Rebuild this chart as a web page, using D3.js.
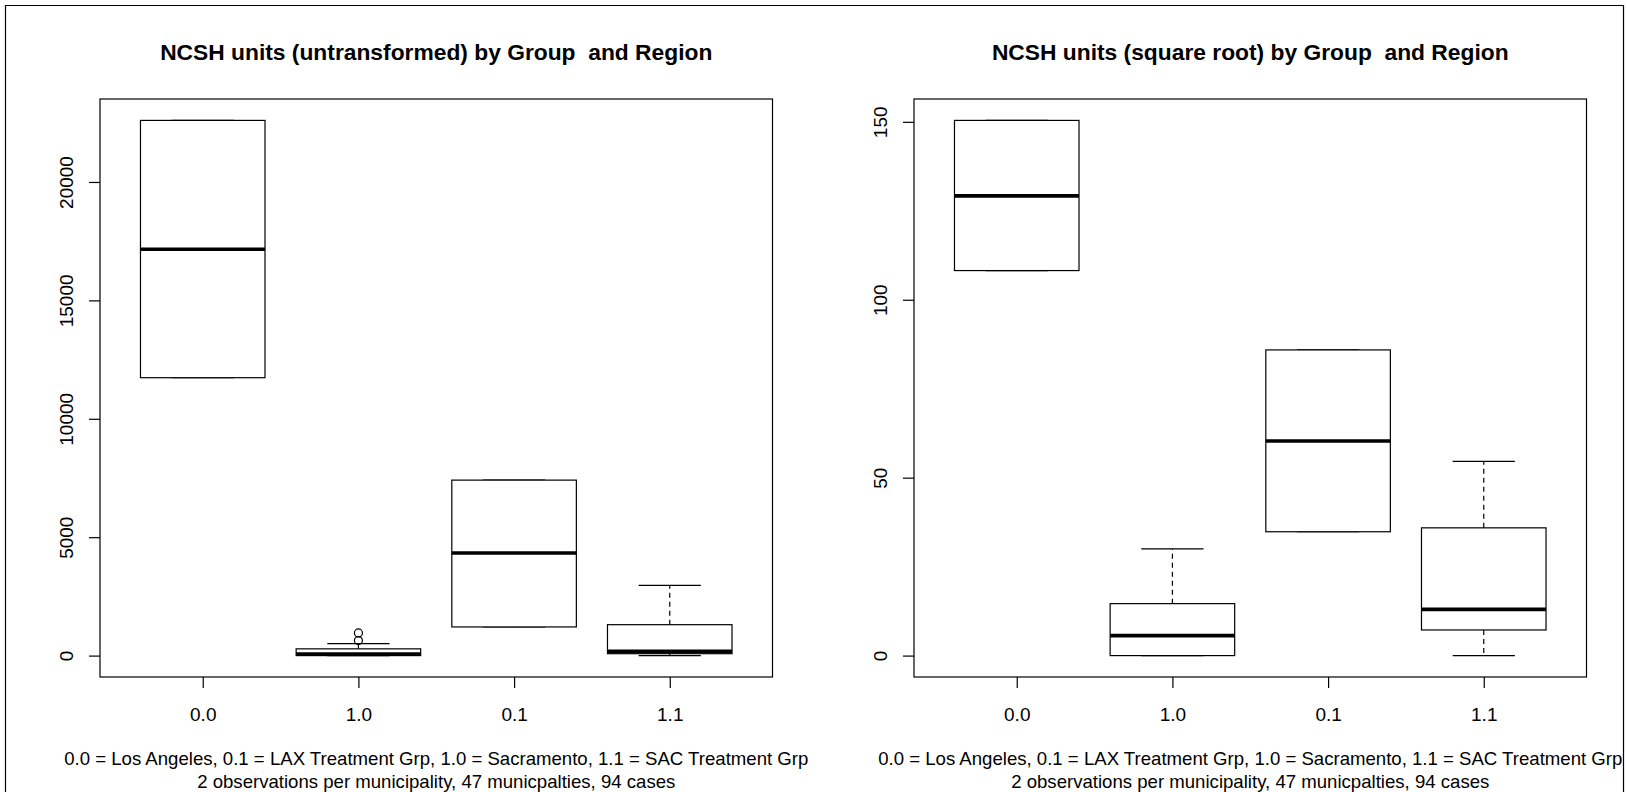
<!DOCTYPE html>
<html>
<head>
<meta charset="utf-8">
<script src="https://cdn.jsdelivr.net/npm/d3@7"></script>
<style>
  body { margin: 0; background: #fff; }
  text { font-family: "Liberation Sans", Arial, sans-serif; fill: #000; white-space: pre; }
</style>
</head>
<body>
<div id="chart-area"></div>
<script>
// groups in the order the boxes are drawn
var groups = ["0.0", "1.0", "0.1", "1.1"];

// [lower whisker, Q1, median, Q3, upper whisker]
var rawStats = [
    [11735, 11735, 17160, 22600, 22600],
    [0, 0, 60, 285, 505],
    [1210, 1210, 4330, 7410, 7410],
    [0, 80, 180, 1305, 2965]
];
var rawOutliers = [[], [633, 957], [], []];
var rawTicks = [0, 5000, 10000, 15000, 20000];

var sqrtStats = [
    [108.2, 108.2, 129.2, 150.4, 150.4],
    [0, 0, 5.6, 14.6, 30.0],
    [34.8, 34.8, 60.3, 85.9, 85.9],
    [0, 7.2, 13.0, 35.9, 54.6]
];
var sqrtOutliers = [[], [], [], []];
var sqrtTicks = [0, 50, 100, 150];

var titles = [
    "NCSH units (untransformed) by Group  and Region",
    "NCSH units (square root) by Group  and Region"
];
var subLines = [
    "0.0 = Los Angeles, 0.1 = LAX Treatment Grp, 1.0 = Sacramento, 1.1 = SAC Treatment Grp",
    "2 observations per municipality, 47 municpalties, 94 cases"
];

var W = 1627, H = 792;
var margin = {top: 99, left: 100};
var plotW = 672.5, plotH = 578;
var panelStep = 814;
var fontSize = 19;

var svg = d3.select("#chart-area")
    .append("svg")
        .attr("width", W)
        .attr("height", H);

// outer frame of the device
svg.append("path")
    .attr("d", "M5.5," + H + "V5.5H" + (W - 3.5) + "V" + H)
    .attr("fill", "none")
    .attr("stroke", "#000")
    .attr("stroke-width", 1.2);

function drawPanel(idx, stats, outliers, ticks, title) {
    var g = svg.append("g")
        .attr("transform", "translate(" + (margin.left + idx * panelStep) + "," + margin.top + ")");

    // R style range: data range stretched by 4% each side
    var lo = d3.min(stats, d => d[0]);
    var hi = d3.max(stats, d => d[4]);
    outliers.forEach(o => { o.forEach(v => { lo = Math.min(lo, v); hi = Math.max(hi, v); }); });
    var pad = (hi - lo) * 0.04;

    var y = d3.scaleLinear().domain([lo - pad, hi + pad]).range([plotH, 0]);
    var x = d3.scaleLinear().domain([0.34, 4.66]).range([0, plotW]);

    // y axis
    var leftAxis = d3.axisLeft(y).tickValues(ticks).tickFormat(d3.format("d")).tickSize(11);
    var ya = g.append("g")
        .attr("class", "left axis")
        .call(leftAxis);
    ya.select(".domain").remove();
    ya.selectAll("line").attr("stroke", "#000").attr("stroke-width", 1.2);
    ya.selectAll("text")
        .attr("transform", "rotate(-90)")
        .attr("x", 0)
        .attr("y", -27)
        .attr("dy", null)
        .attr("text-anchor", "middle")
        .attr("font-size", fontSize + "px")
        .attr("font-family", null);

    // x axis
    var bottomAxis = d3.axisBottom(x).tickValues([1, 2, 3, 4]).tickFormat(d => groups[d - 1]).tickSize(11);
    var xa = g.append("g")
        .attr("class", "bottom axis")
        .attr("transform", "translate(0," + plotH + ")")
        .call(bottomAxis);
    xa.select(".domain").remove();
    xa.selectAll("line").attr("stroke", "#000").attr("stroke-width", 1.2);
    xa.selectAll("text")
        .attr("y", 44)
        .attr("dy", null)
        .attr("font-size", fontSize + "px")
        .attr("font-family", null);

    // plot frame
    g.append("rect")
        .attr("width", plotW)
        .attr("height", plotH)
        .attr("fill", "none")
        .attr("stroke", "#000")
        .attr("stroke-width", 1.2);

    var boxes = g.selectAll(".box")
        .data(stats)
        .enter()
        .append("g")
            .attr("class", "box");

    // dashed whiskers
    boxes.append("line")
        .attr("x1", (d, i) => x(i + 1))
        .attr("x2", (d, i) => x(i + 1))
        .attr("y1", d => y(d[3]))
        .attr("y2", d => y(d[4]))
        .attr("stroke", "#000").attr("stroke-width", 1.2)
        .attr("stroke-dasharray", "5,4");
    boxes.append("line")
        .attr("x1", (d, i) => x(i + 1))
        .attr("x2", (d, i) => x(i + 1))
        .attr("y1", d => y(d[1]))
        .attr("y2", d => y(d[0]))
        .attr("stroke", "#000").attr("stroke-width", 1.2)
        .attr("stroke-dasharray", "5,4");

    // staples
    [0, 4].forEach(k => {
        boxes.append("line")
            .attr("x1", (d, i) => x(i + 0.8))
            .attr("x2", (d, i) => x(i + 1.2))
            .attr("y1", d => y(d[k]))
            .attr("y2", d => y(d[k]))
            .attr("stroke", "#000").attr("stroke-width", 1.2);
    });

    // box
    boxes.append("rect")
        .attr("x", (d, i) => x(i + 0.6))
        .attr("width", (d, i) => x(i + 1.4) - x(i + 0.6))
        .attr("y", d => y(d[3]))
        .attr("height", d => y(d[1]) - y(d[3]))
        .attr("fill", "#fff")
        .attr("stroke", "#000")
        .attr("stroke-width", 1.2);

    // median
    boxes.append("line")
        .attr("x1", (d, i) => x(i + 0.6))
        .attr("x2", (d, i) => x(i + 1.4))
        .attr("y1", d => y(d[2]))
        .attr("y2", d => y(d[2]))
        .attr("stroke", "#000")
        .attr("stroke-width", 3.6);

    // outliers
    outliers.forEach((list, i) => {
        g.selectAll(".out" + i)
            .data(list)
            .enter()
            .append("circle")
                .attr("cx", x(i + 1))
                .attr("cy", d => y(d))
                .attr("r", 4)
                .attr("fill", "none")
                .attr("stroke", "#000")
                .attr("stroke-width", 1.2);
    });

    // title
    g.append("text")
        .attr("x", plotW / 2)
        .attr("y", -39)
        .attr("text-anchor", "middle")
        .attr("font-size", (fontSize * 1.2) + "px")
        .attr("font-weight", "bold")
        .text(title);

    // subtitle lines
    subLines.forEach((s, k) => {
        g.append("text")
            .attr("x", plotW / 2)
            .attr("y", plotH + 88 + k * 22.5)
            .attr("text-anchor", "middle")
            .attr("font-size", "18.6px")
            .text(s);
    });
}

drawPanel(0, rawStats, rawOutliers, rawTicks, titles[0]);
drawPanel(1, sqrtStats, sqrtOutliers, sqrtTicks, titles[1]);
</script>
</body>
</html>
